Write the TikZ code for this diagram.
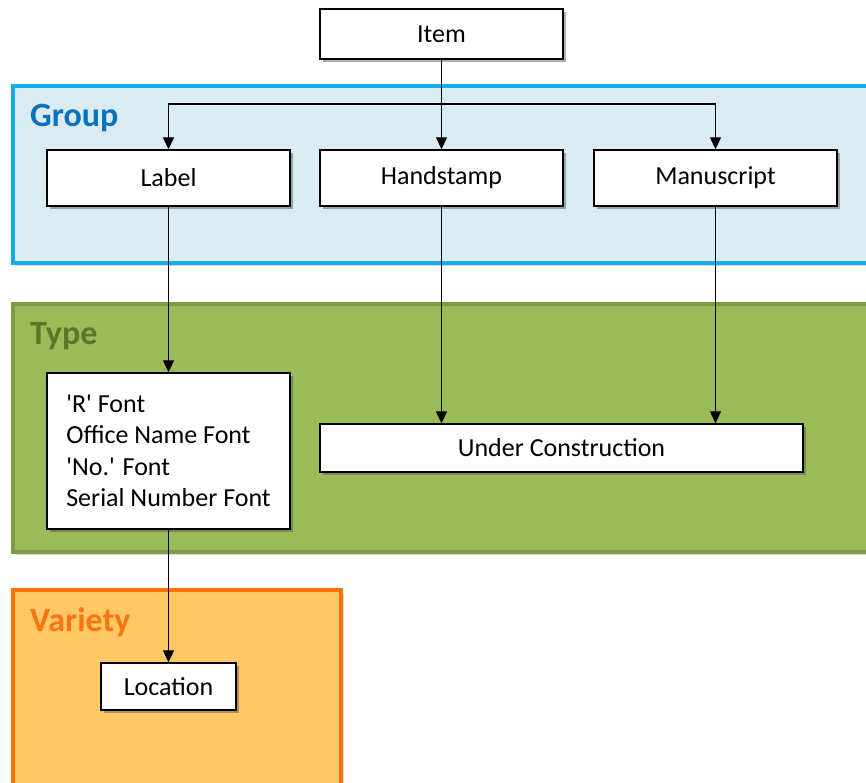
\documentclass[tikz,border=0pt]{standalone}
\usepackage{fontspec}
\setmainfont{Carlito}
\usetikzlibrary{arrows.meta,shadows,calc}
\definecolor{grpfill}{HTML}{DAEBF2}
\definecolor{grpline}{HTML}{12AEEA}
\definecolor{grptext}{HTML}{0872BE}
\definecolor{typfill}{HTML}{9BBB59}
\definecolor{typline}{HTML}{7D9C45}
\definecolor{typtext}{HTML}{5A7729}
\definecolor{varfill}{HTML}{FFC864}
\definecolor{varline}{HTML}{FF7200}
\definecolor{vartext}{HTML}{FA7414}
\newcommand{\sq}{\XeTeXglyph\XeTeXcharglyph"27\relax}
\tikzset{
  box/.style={draw=black, line width=1.4pt, fill=white, rectangle,
    minimum width=243pt, minimum height=56pt, inner sep=0pt,
    font=\fontsize{26}{31.5}\selectfont,
    drop shadow={shadow xshift=3pt, shadow yshift=-3pt, opacity=0.45, fill=black!70}},
  panel/.style={line width=3.5pt,
    drop shadow={shadow xshift=3pt, shadow yshift=-3pt, opacity=0.3}},
  ptitle/.style={anchor=west, inner sep=0pt, font=\fontsize{34}{40}\selectfont\bfseries},
  arr/.style={draw=black, line width=1.2pt, -{Triangle[length=12pt,width=11pt]}},
}
\begin{document}
\begin{tikzpicture}[x=1pt,y=-1pt]
\useasboundingbox (0,0) rectangle (866,782);
\clip (0,0) rectangle (866,782);
% panels
\draw[panel, draw=grpline, fill=grpfill] (13,86) rectangle (885,263);
\draw[panel, draw=typline, fill=typfill] (13,304) rectangle (885,552);
\draw[panel, draw=varline, fill=varfill] (13,590) rectangle (341,795);
\node[ptitle, text=grptext] (tgroup) at (30,118) {Group};
\node[ptitle, text=typtext] (ttype) at (30,336) {Type};
\node[ptitle, text=vartext] (tvar) at (30,622) {Variety};
% boxes
\node[box, minimum height=50pt] (item) at (441.5,34) {Item};
\node[box] (label) at (168.5,178) {Label};
\node[box] (hand) at (441.5,178) {Handstamp};
\node[box] (manu) at (715.5,178) {Manuscript};
\node[box, minimum height=156pt, align=left] (fonts) at (168.5,451)
  {\sq R\sq{} Font\\Office Name Font\\\sq No.\sq{} Font\\Serial Number Font};
\node[box, minimum width=483pt, minimum height=48pt] (uc) at (561.5,448) {Under Construction};
\node[box, minimum width=135pt, minimum height=47pt] (loc) at (168.5,686.5) {Location};
% connectors
\coordinate (bus) at (441.5,104);
\draw[arr] (item.south) -- (hand.north);
\draw[arr] (bus) -| (label.north);
\draw[arr] (bus) -| (manu.north);
\draw[arr] (label.south) -- (fonts.north);
\draw[arr] (hand.south) -- (hand.south |- uc.north);
\draw[arr] (manu.south) -- (manu.south |- uc.north);
\draw[arr] (fonts.south) -- (loc.north);
\end{tikzpicture}
\end{document}
